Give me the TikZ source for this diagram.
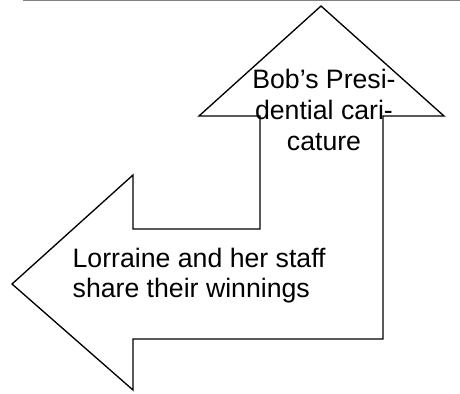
\documentclass[tikz,border=0pt]{standalone}
\usepackage{fontspec}
\setmainfont{Liberation Sans}

\begin{document}
\begin{tikzpicture}[x=0.75pt, y=-0.75pt, line width=1pt, words/.style = {inner sep=0pt, font=\fontsize{20}{22.5}\selectfont} ]
        \useasboundingbox (0,0) rectangle (460,393);
        \draw[gray, line width=0.75pt] (23,0.5) -- (460,0.5);

        % bent arrow outline
        \draw (321,6) -- (444,116) -- (383,116) -- (383,339) -- (133,339) -- (133,390)
              -- (12,284) -- (133,175) -- (133,229) -- (260,229) -- (260,116) -- (199,116) -- cycle;

        \node[words, align=center, anchor=north, font=\fontsize{20}{23.25}\selectfont] (bob) at (324,68.6) {Bob’s Presi-\\dential cari-\\cature};
        \node[words, align=left, anchor=north west] (lorraine) at (72,247.6) {Lorraine and her staff\\share their winnings};

    \end{tikzpicture}
\end{document}
